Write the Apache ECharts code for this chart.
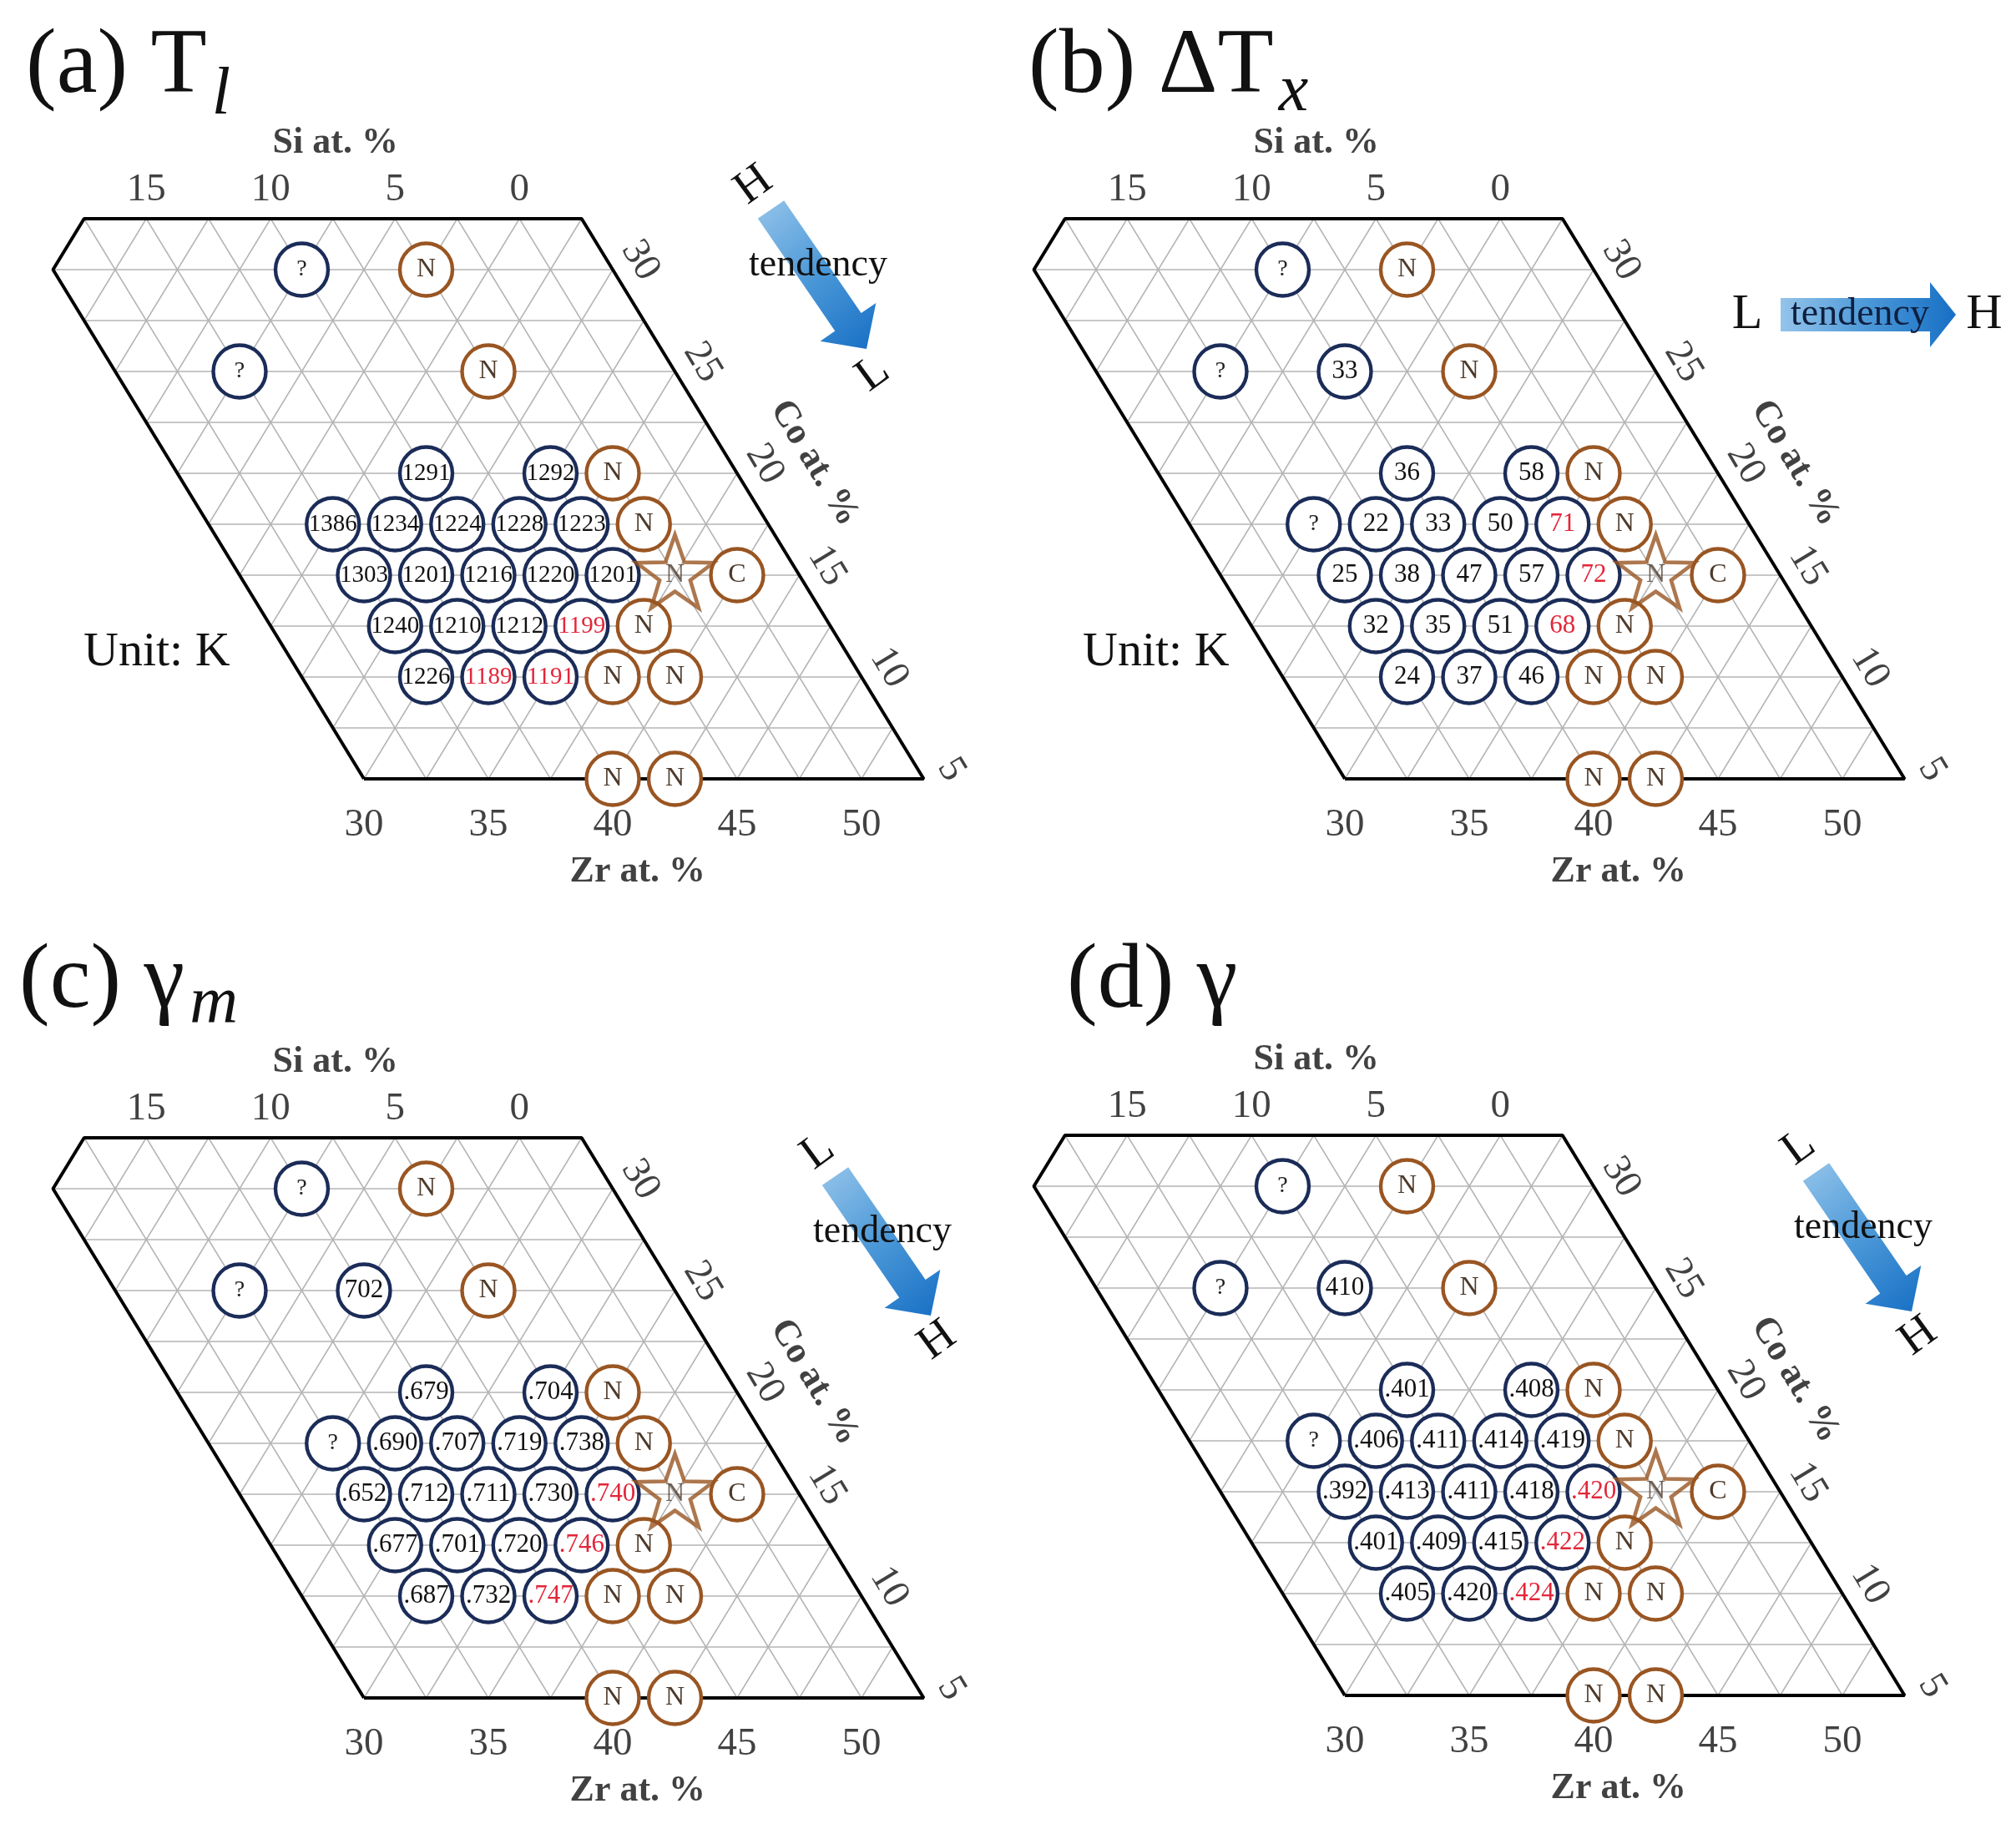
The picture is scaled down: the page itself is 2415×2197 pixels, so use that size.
<!DOCTYPE html>
<html>
<head>
<meta charset="utf-8">
<script src="https://cdn.jsdelivr.net/npm/echarts@6.0.0/dist/echarts.min.js"></script>
<style>
html,body{margin:0;padding:0;background:#ffffff;}
#chart{width:2415px;height:2197px;}
</style>
</head>
<body>
<div id="chart"></div>
<script>
// ---------------- data ----------------
// Each tested alloy: Zr at.% and Co at.% (Si at.% = 55 - Zr - Co)
const zrAt = [15, 20, 15, 20, 25, 25, 30, 32.5, 22.5, 25, 27.5, 30, 32.5, 35, 25, 27.5, 30, 32.5, 35, 37.5, 40, 27.5, 30, 32.5, 35, 37.5, 30, 32.5, 35, 37.5, 40, 40, 42.5];
const coAt = [30, 30, 25, 25, 25, 20, 20, 20, 17.5, 17.5, 17.5, 17.5, 17.5, 17.5, 15, 15, 15, 15, 15, 15, 15, 12.5, 12.5, 12.5, 12.5, 12.5, 10, 10, 10, 10, 10, 5, 5];
const markerKind = ['o','o','o','o','o','o','o','o','o','o','o','o','o','o','o','o','o','o','o','star','o','o','o','o','o','o','o','o','o','o','o','o','o'];

const valuesTl  = ['?','N','?',null,'N','1291','1292','N','1386','1234','1224','1228','1223','N','1303','1201','1216','1220','1201','N','C','1240','1210','1212','1199','N','1226','1189','1191','N','N','N','N'];
const valuesDTx = ['?','N','?','33','N','36','58','N','?','22','33','50','71','N','25','38','47','57','72','N','C','32','35','51','68','N','24','37','46','N','N','N','N'];
const valuesGm  = ['?','N','?','702','N','.679','.704','N','?','.690','.707','.719','.738','N','.652','.712','.711','.730','.740','N','C','.677','.701','.720','.746','N','.687','.732','.747','N','N','N','N'];
const valuesG   = ['?','N','?','410','N','.401','.408','N','?','.406','.411','.414','.419','N','.392','.413','.411','.418','.420','N','C','.401','.409','.415','.422','N','.405','.420','.424','N','N','N','N'];

// indices of the best (red) values in each panel
const redTl  = [24, 27, 28];
const redDTx = [12, 18, 24];
const redGm  = [18, 24, 28];
const redG   = [18, 24, 28];

// axis ticks
const zrTicks = [30, 35, 40, 45, 50];
const coTicks = [5, 10, 15, 20, 25, 30];
const siTicks = [15, 10, 5, 0];

// ---------------- geometry helpers ----------------
const S3 = Math.sqrt(3) / 2;
const SUM = 55;                       // Zr + Co + Si in this section
function toXY(zr, co) { return [zr + co / 2, co * S3]; }

const FONT = '"Liberation Serif","Times New Roman",serif';
const NAVY = '#1b2c58';
const BROWN = '#995522';
const RED = '#e3263a';
const NTEXT = '#4e3a2a';

const boundary = [[30, 5], [52.5, 5], [25, 32.5], [5, 32.5], [5, 30], [30, 5]];

function gridSegments() {
  const segs = [];
  for (let c = 7.5; c <= 30.01; c += 2.5) segs.push([toXY(Math.max(5, 35 - c), c), toXY(57.5 - c, c)]);
  for (let z = 7.5; z <= 50.01; z += 2.5) {
    const lo = Math.max(5, 35 - z), hi = Math.min(32.5, 57.5 - z);
    if (hi > lo + 0.01) segs.push([toXY(z, lo), toXY(z, hi)]);
  }
  for (let s = 0; s <= 17.51; s += 2.5) {
    const hi = Math.min(32.5, 50 - s);
    segs.push([toXY(SUM - s - 5, 5), toXY(SUM - s - hi, hi)]);
  }
  return segs;
}

function starPath(ratio) {
  let d = '';
  for (let i = 0; i < 10; i++) {
    const a = -Math.PI / 2 + i * Math.PI / 5;
    const r = i % 2 === 0 ? 100 : 100 * ratio;
    d += (i === 0 ? 'M' : 'L') + (100 + r * Math.cos(a)).toFixed(2) + ' ' + (100 + r * Math.sin(a)).toFixed(2) + ' ';
  }
  return 'path://' + d + 'Z';
}

const panels = [
  { values: valuesTl,  red: redTl,  left: 63.5,   top: 262,  numSize: 29 },
  { values: valuesDTx, red: redDTx, left: 1238.5, top: 262,  numSize: 31 },
  { values: valuesGm,  red: redGm,  left: 63.5,   top: 1363, numSize: 31 },
  { values: valuesG,   red: redG,   left: 1238.5, top: 1360, numSize: 31 }
];
const GW = 1043, GH = 671;

const series = [];
const segs = gridSegments();
panels.forEach((p, i) => {
  // grid lines
  series.push({
    type: 'lines', coordinateSystem: 'cartesian2d', xAxisIndex: i, yAxisIndex: i, silent: true, z: 1,
    lineStyle: { color: '#b4b4b4', width: 1.5, opacity: 1 },
    data: segs.map(s => ({ coords: s }))
  });
  // boundary
  series.push({
    type: 'line', xAxisIndex: i, yAxisIndex: i, silent: true, z: 2, symbol: 'none',
    lineStyle: { color: '#000', width: 4 },
    data: boundary.map(b => toXY(b[0], b[1]))
  });
  // circles
  const circ = [], stars = [];
  p.values.forEach((v, k) => {
    if (v === null) return;
    const brown = (v === 'N' || v === 'C');
    const isRed = p.red.indexOf(k) >= 0;
    const item = {
      name: v, value: toXY(zrAt[k], coAt[k]),
      itemStyle: { borderColor: brown ? BROWN : NAVY },
      label: {
        color: brown ? NTEXT : (isRed ? RED : (v === '?' ? '#222' : '#111')),
        fontSize: brown ? 32 : (v === '?' ? 28 : p.numSize)
      }
    };
    if (markerKind[k] === 'star') stars.push(item); else circ.push(item);
  });
  series.push({
    type: 'scatter', xAxisIndex: i, yAxisIndex: i, silent: true, z: 5,
    symbol: 'circle', symbolSize: 63,
    itemStyle: { color: '#ffffff', borderWidth: 4.4, opacity: 1 },
    label: { show: true, position: 'inside', formatter: '{b}', fontFamily: FONT },
    data: circ
  });
  series.push({
    type: 'scatter', xAxisIndex: i, yAxisIndex: i, silent: true, z: 5,
    symbol: starPath(0.4), symbolKeepAspect: true, symbolSize: 92, symbolOffset: [0, -4.4],
    itemStyle: { color: 'rgba(255,255,255,0)', borderWidth: 4.6, borderColor: BROWN },
    label: { show: true, position: 'inside', formatter: '{b}', fontFamily: FONT, offset: [0, 4] },
    data: stars
  });
  // tick labels and axis names
  const tl = [];
  zrTicks.forEach(z => tl.push({ name: String(z), value: toXY(z, 5), symbolOffset: [0, 56] }));
  siTicks.forEach(s => tl.push({ name: String(s), value: toXY(SUM - 32.5 - s, 32.5), symbolOffset: [0, -34] }));
  coTicks.forEach(c => tl.push({ name: String(c), value: toXY(57.5 - c, c), symbolOffset: [33, -11], label: { rotate: -59 } }));
  tl.push({ name: 'Si at. %', value: toXY(SUM - 32.5 - 7.4, 32.5), symbolOffset: [0, -90], label: { fontWeight: 'bold', fontSize: 44 } });
  tl.push({ name: 'Zr at. %', value: toXY(41, 5), symbolOffset: [0, 112], label: { fontWeight: 'bold', fontSize: 44 } });
  tl.push({ name: 'Co at. %', value: toXY(37, 20.5), symbolOffset: [100, 0], label: { fontWeight: 'bold', fontSize: 44, rotate: -59 } });
  series.push({
    type: 'scatter', xAxisIndex: i, yAxisIndex: i, silent: true, z: 6,
    symbol: 'circle', symbolSize: 2, itemStyle: { color: 'rgba(0,0,0,0)' },
    label: { show: true, position: 'inside', formatter: '{b}', fontFamily: FONT, fontSize: 47, color: '#111' },
    data: tl
  });
});

// ---------------- decorations ----------------
function textWidth(t, font) {
  const c = document.createElement('canvas').getContext('2d');
  c.font = font; return c.measureText(t).width;
}
const graphics = [];
const TF = 110, SF = 80;
function title(x, baseY, main, sub, subDrop) {
  const mf = TF + 'px "Liberation Serif"';
  graphics.push({ type: 'text', x: x, y: baseY - 0.3375 * TF, style: { text: main, fontFamily: FONT, fontSize: TF, fill: '#111', align: 'left', verticalAlign: 'middle' } });
  if (sub) {
    const w = textWidth(main, mf);
    graphics.push({ type: 'text', x: x + w + 6, y: baseY + subDrop - 0.3375 * SF, style: { text: sub, fontFamily: FONT, fontSize: SF, fontStyle: 'italic', fill: '#111', align: 'left', verticalAlign: 'middle' } });
  }
}
title(31, 118, '(a) T', 'l', 24);
title(1232, 118, '(b) ΔT', 'x', 20);
title(23, 1214, '(c) γ', 'm', 16);
title(1278, 1214, '(d) γ', null, 0);

graphics.push({ type: 'text', x: 100, y: 782, style: { text: 'Unit: K', fontFamily: FONT, fontSize: 58, fill: '#111', align: 'left', verticalAlign: 'middle' } });
graphics.push({ type: 'text', x: 1297, y: 782, style: { text: 'Unit: K', fontFamily: FONT, fontSize: 58, fill: '#111', align: 'left', verticalAlign: 'middle' } });

function arrowPoly(tx, ty, px, py, sh, hh, hl) {
  const dx = px - tx, dy = py - ty, L = Math.hypot(dx, dy);
  const ux = dx / L, uy = dy / L, nx = -uy, ny = ux;
  const bx = px - ux * hl, by = py - uy * hl;
  return [[tx + nx * sh, ty + ny * sh], [bx + nx * sh, by + ny * sh], [bx + nx * hh, by + ny * hh], [px, py],
          [bx - nx * hh, by - ny * hh], [bx - nx * sh, by - ny * sh], [tx - nx * sh, ty - ny * sh]];
}
function diagArrow(ox, oy, topLetter, bottomLetter) {
  graphics.push({
    type: 'polygon', shape: { points: arrowPoly(923.5 + ox, 251 + oy, 1038 + ox, 418 + oy, 19, 40.5, 39) },
    style: { fill: new echarts.graphic.LinearGradient(0, 0, 1, 1, [{ offset: 0, color: '#94c4ea' }, { offset: 0.5, color: '#4b98d8' }, { offset: 1, color: '#176fc4' }]) }
  });
  graphics.push({ type: 'text', x: 980 + ox, y: 318 + oy, style: { text: 'tendency', fontFamily: FONT, fontSize: 46, fill: '#111', align: 'center', verticalAlign: 'middle' } });
  graphics.push({ type: 'text', x: 903 + ox, y: 222 + oy, rotation: 0.63, style: { text: topLetter, fontFamily: FONT, fontSize: 56, fill: '#111', align: 'center', verticalAlign: 'middle' } });
  graphics.push({ type: 'text', x: 1046 + ox, y: 448 + oy, rotation: 0.63, style: { text: bottomLetter, fontFamily: FONT, fontSize: 56, fill: '#111', align: 'center', verticalAlign: 'middle' } });
}
diagArrow(0, 0, 'H', 'L');
diagArrow(77, 1158, 'L', 'H');
diagArrow(1252, 1153, 'L', 'H');

graphics.push({
  type: 'polygon', shape: { points: arrowPoly(2133, 377, 2343, 377, 20, 39, 31) },
  style: { fill: new echarts.graphic.LinearGradient(0, 0, 1, 0, [{ offset: 0, color: '#94c4ea' }, { offset: 0.5, color: '#4b98d8' }, { offset: 1, color: '#176fc4' }]) }
});
graphics.push({ type: 'text', x: 2228, y: 377, style: { text: 'tendency', fontFamily: FONT, fontSize: 46, fill: '#0f1f40', align: 'center', verticalAlign: 'middle' } });
graphics.push({ type: 'text', x: 2093, y: 377, style: { text: 'L', fontFamily: FONT, fontSize: 60, fill: '#111', align: 'center', verticalAlign: 'middle' } });
graphics.push({ type: 'text', x: 2377, y: 377, style: { text: 'H', fontFamily: FONT, fontSize: 60, fill: '#111', align: 'center', verticalAlign: 'middle' } });

const option = {
  animation: false,
  backgroundColor: '#ffffff',
  grid: panels.map(p => ({ left: p.left, top: p.top, width: GW, height: GH, outerBoundsMode: 'none' })),
  xAxis: panels.map((p, i) => ({ type: 'value', gridIndex: i, min: 20, max: 55, show: false })),
  yAxis: panels.map((p, i) => ({ type: 'value', gridIndex: i, min: 5 * S3, max: 32.5 * S3, show: false })),
  series: series,
  graphic: graphics
};
const chart = echarts.init(document.getElementById('chart'), null, { renderer: 'canvas' });
chart.setOption(option);
</script>
</body>
</html>
